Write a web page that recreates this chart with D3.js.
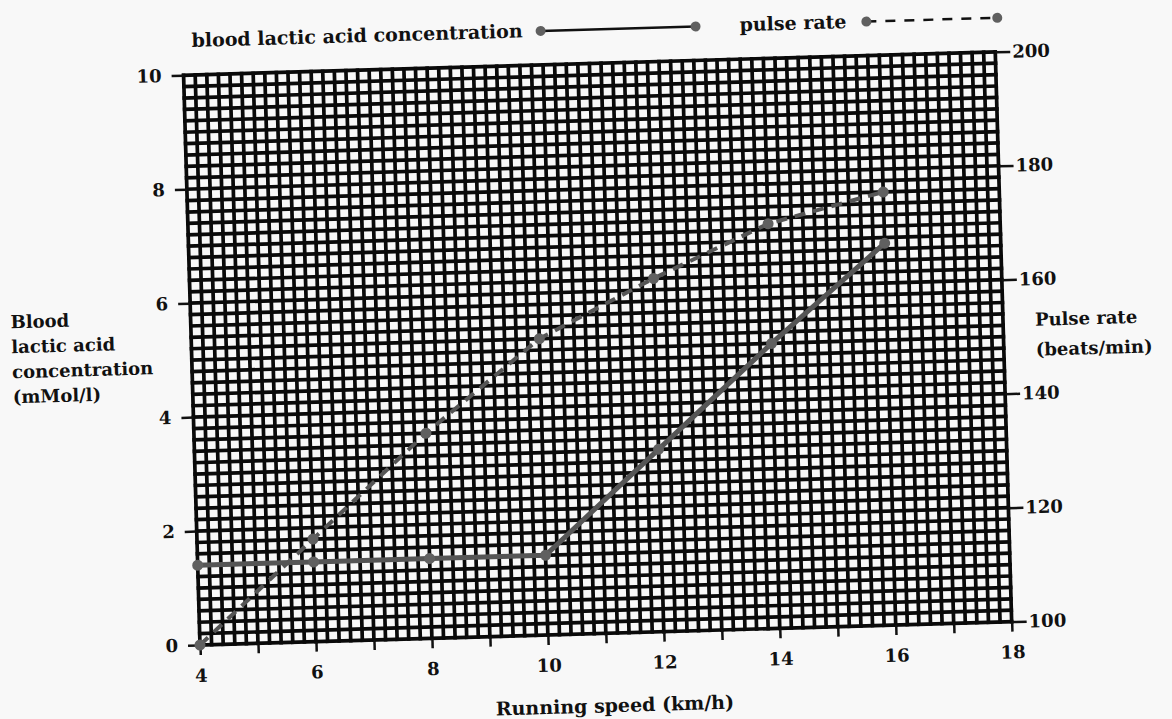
<!DOCTYPE html>
<html>
<head>
<meta charset="utf-8">
<script src="https://cdn.jsdelivr.net/npm/d3@7"></script>
<style>
  html, body { margin: 0; padding: 0; background: #f8f8f8; }
  svg { display: block; }
  text { font-family: "DejaVu Serif", serif; font-weight: bold; fill: #111; }
</style>
</head>
<body>
<svg id="chart" width="1172" height="719"></svg>
<script>
// ---- data ----
const speeds = [4, 6, 8, 10, 12, 14, 16];             // running speed (km/h)
const lacticAcid = [1.4, 1.4, 1.4, 1.4, 3.2, 5.0, 6.7]; // mMol/l
const pulseRate = [100, 118, 136, 152, 162, 171, 176];  // beats/min
const xTickValues = [4, 5, 6, 7, 8, 9, 10, 11, 12, 13, 14, 15, 16, 17, 18];
const xTickLabels = ["4", "", "6", "", "8", "", "10", "", "12", "", "14", "", "16", "", "18"];
const leftTickValues = [0, 2, 4, 6, 8, 10];
const rightTickValues = [100, 120, 140, 160, 180, 200];
const legendLabels = ["blood lactic acid concentration", "pulse rate"];
const leftTitle = ["Blood", "lactic acid", "concentration", "(mMol/l)"];
const rightTitle = ["Pulse rate", "(beats/min)"];
const xTitle = "Running speed (km/h)";

// ---- layout ----
const W = 1172, H = 719;
const L = 200, R = 1012, T = 75, B = 645;
const tilt = -1.65; // scanned page is slightly rotated

const svg = d3.select("#chart");
svg.append("rect").attr("width", W).attr("height", H).attr("fill", "#f8f8f8");
const g = svg.append("g").attr("transform", `rotate(${tilt},${L},${B})`);

const x = d3.scaleLinear().domain([4, 18]).range([L, R]);
const yL = d3.scaleLinear().domain([0, 10]).range([B, T]);
const yR = d3.scaleLinear().domain([100, 200]).range([B, T]);

// ---- dense graph-paper grid ----
const gridX = d3.range(0, 71).map(i => 4 + i * 0.2);
const gridY = d3.range(0, 51).map(i => i * 0.2);
const grid = g.append("g").attr("stroke", "#0a0a0a").attr("stroke-width", 3.7);
grid.selectAll("line.v").data(gridX).join("line")
  .attr("x1", d => x(d)).attr("x2", d => x(d))
  .attr("y1", T - 1.8).attr("y2", B + 1.8);
grid.selectAll("line.h").data(gridY).join("line")
  .attr("y1", d => yL(d)).attr("y2", d => yL(d))
  .attr("x1", L - 1.8).attr("x2", R + 1.8);

// ---- axes ----
const axisStyle = sel => {
  sel.select(".domain").remove();
  sel.selectAll(".tick line").attr("stroke", "#111").attr("stroke-width", 2.5);
  sel.selectAll(".tick text").style("font-family", '"DejaVu Serif", serif')
    .style("font-weight", "bold").style("font-size", "18px").attr("fill", "#111");
};
g.append("g").attr("transform", `translate(0,${B})`)
  .call(d3.axisBottom(x).tickValues(xTickValues).tickSize(10).tickPadding(14)
    .tickFormat((d, i) => xTickLabels[i]))
  .call(axisStyle);
g.append("g").attr("transform", `translate(${L},0)`)
  .call(d3.axisLeft(yL).tickValues(leftTickValues).tickSize(12).tickPadding(10).tickFormat(d3.format("d")))
  .call(axisStyle);
g.append("g").attr("transform", `translate(${R},0)`)
  .call(d3.axisRight(yR).tickValues(rightTickValues).tickSize(15).tickPadding(2).tickFormat(d3.format("d")))
  .call(axisStyle);

// ---- titles ----
g.append("text").attr("x", (L + R) / 2 + 7).attr("y", B + 79)
  .attr("text-anchor", "middle").style("font-size", "19px").text(xTitle);
g.append("g").selectAll("text").data(leftTitle).join("text")
  .attr("x", 20).attr("y", (d, i) => 323 + i * 25)
  .style("font-size", "18px").text(d => d);
g.append("g").selectAll("text").data(rightTitle).join("text")
  .attr("x", R + 32).attr("y", (d, i) => 350 + i * 30)
  .style("font-size", "18px").text(d => d);

// ---- series ----
const lineCol = "#555";
const lacticPts = speeds.map((s, i) => [x(s), yL(lacticAcid[i])]);
const pulsePts = speeds.map((s, i) => [x(s), yR(pulseRate[i])]);
const line = d3.line();

g.append("path").attr("d", line(pulsePts)).attr("fill", "none")
  .attr("stroke", lineCol).attr("stroke-width", 4).attr("stroke-dasharray", "11,8");
g.append("path").attr("d", line(lacticPts)).attr("fill", "none")
  .attr("stroke", lineCol).attr("stroke-width", 5);
g.append("g").selectAll("circle").data(pulsePts).join("circle")
  .attr("cx", d => d[0]).attr("cy", d => d[1]).attr("r", 5.5).attr("fill", "#606060");
g.append("g").selectAll("circle").data(lacticPts).join("circle")
  .attr("cx", d => d[0]).attr("cy", d => d[1]).attr("r", 5.5).attr("fill", "#606060");

// ---- legend ----
const legY = 41;
const leg1 = g.append("text").attr("x", 209).attr("y", legY + 6).style("font-size", "19px").text(legendLabels[0]);
const m1a = 209 + leg1.node().getComputedTextLength() + 18, m1b = m1a + 155;
g.append("line").attr("x1", m1a).attr("x2", m1b).attr("y1", legY).attr("y2", legY)
  .attr("stroke", "#111").attr("stroke-width", 2.5);
g.selectAll("circle.l1").data([m1a, m1b]).join("circle").attr("class", "l1")
  .attr("cx", d => d).attr("cy", legY).attr("r", 5).attr("fill", "#606060");
const t2x = m1b + 44;
const leg2 = g.append("text").attr("x", t2x).attr("y", legY + 6).style("font-size", "19px").text(legendLabels[1]);
const m2a = t2x + leg2.node().getComputedTextLength() + 20, m2b = R + 3;
g.append("line").attr("x1", m2a).attr("x2", m2b).attr("y1", legY).attr("y2", legY)
  .attr("stroke", "#111").attr("stroke-width", 2.5).attr("stroke-dasharray", "10,9");
g.selectAll("circle.l2").data([m2a, m2b]).join("circle").attr("class", "l2")
  .attr("cx", d => d).attr("cy", legY).attr("r", 5).attr("fill", "#606060");
</script>
</body>
</html>
